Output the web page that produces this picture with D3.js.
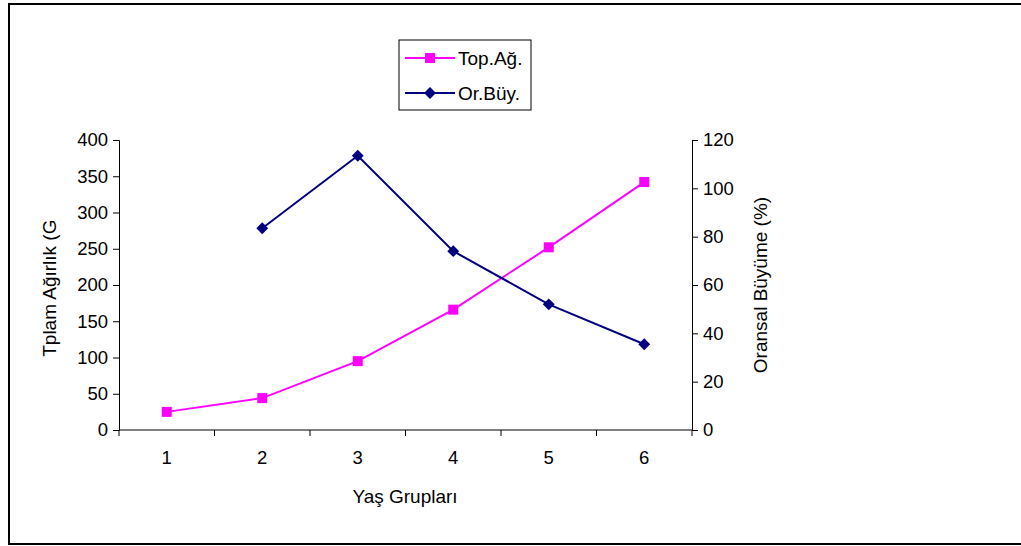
<!DOCTYPE html>
<meta charset="utf-8">
<head>
<script src="https://d3js.org/d3.v7.min.js"></script>
<style>
  body { margin: 0; background: #fff; font-family: "Liberation Sans", Arial, sans-serif; }
</style>
</head>
<body>
<div id="chart"></div>
<script>
// data
var groups = ["1", "2", "3", "4", "5", "6"];
var topAg = [25, 44, 95, 166, 252, 342];
var orBuy = [null, 83.5, 113.5, 74, 52, 35.5];
var leftTicks = [0, 50, 100, 150, 200, 250, 300, 350, 400];
var rightTicks = [0, 20, 40, 60, 80, 100, 120];

var W = 1021, H = 546;
var margin = {top: 140, right: 329, bottom: 116, left: 119},
    width = W - margin.left - margin.right,
    height = H - margin.top - margin.bottom;

var FONT = "'Liberation Sans', Arial, sans-serif";

var svg = d3.select("#chart").append("svg")
    .attr("width", W).attr("height", H)
    .style("font-family", FONT);

// outer frame
svg.append("rect")
  .attr("x", 9).attr("y", 4).attr("width", W + 10).attr("height", 540)
  .attr("fill", "none").attr("stroke", "#000").attr("stroke-width", 2);

var g = svg.append("g").attr("transform", "translate(" + margin.left + "," + margin.top + ")");

var x = d3.scaleBand().domain(groups).range([0, width]);
var y = d3.scaleLinear().domain([0, 400]).range([height, 0]);
var y2 = d3.scaleLinear().domain([0, 120]).range([height, 0]);

// x axis: ticks between categories
var xa = g.append("g").attr("transform", "translate(0," + height + ")");
xa.append("line").attr("x1", 0).attr("x2", width).attr("stroke", "#000");
var bounds = d3.range(groups.length + 1).map(function(i) { return i * x.step(); });
xa.selectAll(".bt").data(bounds).enter().append("line")
  .attr("x1", function(d) { return d; }).attr("x2", function(d) { return d; })
  .attr("y1", 0).attr("y2", 6).attr("stroke", "#000");
xa.selectAll(".lb").data(groups).enter().append("text")
  .attr("x", function(d) { return x(d) + x.bandwidth() / 2; })
  .attr("y", 34).attr("text-anchor", "middle")
  .style("font-size", "18.5px").text(function(d) { return d; });

// left axis
var la = g.append("g").call(d3.axisLeft(y).tickValues(leftTicks).tickSizeOuter(0).tickSize(6).tickPadding(5));
la.select(".domain").attr("stroke", "#000");
la.selectAll("text").style("font-size", "18.5px").style("font-family", FONT).attr("fill", "#000");

// right axis
var ra = g.append("g").attr("transform", "translate(" + width + ",0)")
  .call(d3.axisRight(y2).tickValues(rightTicks).tickSizeOuter(0).tickSize(6).tickPadding(5));
ra.selectAll("text").style("font-size", "18.5px").style("font-family", FONT).attr("fill", "#000");

// axis titles (left one is cut off at the top as in the original)
svg.append("defs").append("clipPath").attr("id", "lclip")
  .append("rect").attr("x", 0).attr("y", 219).attr("width", 100).attr("height", 300);
svg.append("g").attr("clip-path", "url(#lclip)")
  .append("text")
  .attr("transform", "translate(56,285) rotate(-90)")
  .attr("text-anchor", "middle")
  .style("font-size", "19px")
  .text("Tplam Ağırlık (G)");
svg.append("text")
  .attr("transform", "translate(767,285) rotate(-90)")
  .attr("text-anchor", "middle")
  .style("font-size", "19px")
  .text("Oransal Büyüme (%)");
svg.append("text")
  .attr("x", 405).attr("y", 503).attr("text-anchor", "middle")
  .style("font-size", "19px").text("Yaş Grupları");

var cx = function(i) { return x(groups[i]) + x.bandwidth() / 2; };

// Top.Ağ line
var d1 = topAg.map(function(v, i) { return [cx(i), y(v)]; });
g.append("path").attr("d", d3.line()(d1))
  .attr("fill", "none").attr("stroke", "#ff00ff").attr("stroke-width", 2);
g.selectAll(".sq").data(d1).enter().append("rect")
  .attr("x", function(d) { return d[0] - 5; }).attr("y", function(d) { return d[1] - 5; })
  .attr("width", 10).attr("height", 10).attr("fill", "#ff00ff");

// Or.Büy line
var d2 = orBuy.map(function(v, i) { return v == null ? null : [cx(i), y2(v)]; }).filter(function(d) { return d; });
g.append("path").attr("d", d3.line()(d2))
  .attr("fill", "none").attr("stroke", "#000080").attr("stroke-width", 2);
var diamond = d3.symbol().type(d3.symbolDiamond2).size(90);
g.selectAll(".dm").data(d2).enter().append("path")
  .attr("transform", function(d) { return "translate(" + d[0] + "," + d[1] + ")"; })
  .attr("d", diamond).attr("fill", "#000080");

// legend
var lg = svg.append("g").attr("transform", "translate(399,40)");
lg.append("rect").attr("width", 132).attr("height", 70)
  .attr("fill", "#fff").attr("stroke", "#000").attr("stroke-width", 1);
var items = [{name: "Top.Ağ.", color: "#ff00ff", m: "sq"}, {name: "Or.Büy.", color: "#000080", m: "dm"}];
items.forEach(function(it, i) {
  var yy = 18 + i * 35;
  lg.append("line").attr("x1", 6).attr("x2", 56).attr("y1", yy).attr("y2", yy)
    .attr("stroke", it.color).attr("stroke-width", 2);
  if (it.m == "sq") {
    lg.append("rect").attr("x", 26).attr("y", yy - 5).attr("width", 10).attr("height", 10).attr("fill", it.color);
  } else {
    lg.append("path").attr("transform", "translate(31," + yy + ")").attr("d", diamond).attr("fill", it.color);
  }
  lg.append("text").attr("x", 59).attr("y", yy + 7).style("font-size", "19px").text(it.name);
});
</script>
</body>
